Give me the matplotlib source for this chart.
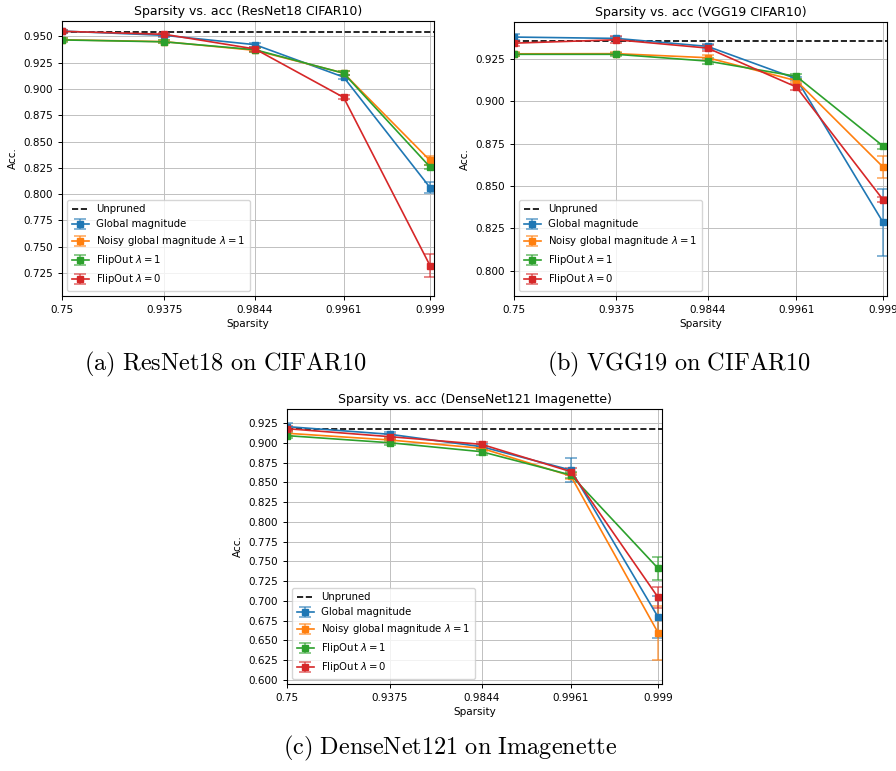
import numpy as np
import matplotlib.pyplot as plt
from matplotlib.ticker import NullLocator, NullFormatter
from matplotlib.colors import to_rgba

# sparsity levels (x axis, logit scale)
sparsity = [0.75, 0.9375, 0.984375, 0.99609375, 0.999]
sparsity_labels = ['0.75', '0.9375', '0.9844', '0.9961', '0.999']

methods = ['Global magnitude', r'Noisy global magnitude $\lambda = 1$',
           r'FlipOut $\lambda = 1$', r'FlipOut $\lambda = 0$']
colors = ['#1f77b4', '#ff7f0e', '#2ca02c', '#d62728']

# (a) ResNet18 CIFAR10
resnet_unpruned = 0.9538
resnet_mean = [
    [0.9550, 0.9510, 0.9421, 0.9113, 0.8062],
    [0.9468, 0.9450, 0.9367, 0.9151, 0.8320],
    [0.9466, 0.9448, 0.9373, 0.9150, 0.8258],
    [0.9548, 0.9520, 0.9380, 0.8920, 0.7320],
]
resnet_err = [
    [0.0015, 0.0015, 0.0020, 0.0020, 0.0050],
    [0.0015, 0.0015, 0.0020, 0.0020, 0.0040],
    [0.0015, 0.0015, 0.0020, 0.0020, 0.0020],
    [0.0015, 0.0015, 0.0020, 0.0020, 0.0110],
]

# (b) VGG19 CIFAR10
vgg_unpruned = 0.9358
vgg_mean = [
    [0.9380, 0.9372, 0.9325, 0.9134, 0.8285],
    [0.9281, 0.9282, 0.9258, 0.9122, 0.8612],
    [0.9278, 0.9278, 0.9238, 0.9148, 0.8736],
    [0.9344, 0.9364, 0.9315, 0.9085, 0.8419],
]
vgg_err = [
    [0.0020, 0.0010, 0.0015, 0.0010, 0.0200],
    [0.0010, 0.0010, 0.0015, 0.0010, 0.0067],
    [0.0010, 0.0010, 0.0020, 0.0015, 0.0015],
    [0.0015, 0.0020, 0.0020, 0.0015, 0.0015],
]

# (c) DenseNet121 Imagenette
dense_unpruned = 0.9170
dense_mean = [
    [0.9204, 0.9107, 0.8950, 0.8655, 0.6796],
    [0.9120, 0.9035, 0.8930, 0.8580, 0.6598],
    [0.9090, 0.9000, 0.8887, 0.8592, 0.7412],
    [0.9178, 0.9077, 0.8980, 0.8635, 0.7045],
]
dense_err = [
    [0.0040, 0.0030, 0.0030, 0.0150, 0.0270],
    [0.0030, 0.0030, 0.0030, 0.0040, 0.0340],
    [0.0030, 0.0030, 0.0040, 0.0040, 0.0145],
    [0.0030, 0.0030, 0.0030, 0.0040, 0.0130],
]

W, H = 896, 771
fig = plt.figure(figsize=(W / 100, H / 100), dpi=100)


def panel(rect, title, unpruned, mean, err, ylim, yticks):
    l, t, r, b = rect
    ax = fig.add_axes([l / W, 1 - b / H, (r - l) / W, (b - t) / H])
    ax.set_xscale('logit')
    ax.axhline(unpruned, color='black', ls='--', lw=1.2, label='Unpruned')
    for name, c, m, e in zip(methods, colors, mean, err):
        ax.errorbar(sparsity, m, yerr=e, color=c, ecolor=to_rgba(c, 0.7),
                    marker='s', markersize=4.8, lw=1.2, elinewidth=1.1,
                    capsize=4.5, capthick=1.1, label=name)
    ax.set_xticks(sparsity)
    ax.set_xticklabels(sparsity_labels)
    ax.xaxis.set_minor_locator(NullLocator())
    ax.xaxis.set_minor_formatter(NullFormatter())
    ax.set_xlim(0.7495, 0.99906)
    ax.set_ylim(*ylim)
    ax.set_yticks(yticks)
    ax.set_yticklabels(['%.3f' % v for v in yticks])
    ax.tick_params(labelsize=7.5, length=3, width=0.7)
    ax.grid(True, color='#c0c0c0', lw=0.7)
    ax.set_title(title, fontsize=9, pad=4)
    ax.set_xlabel('Sparsity', fontsize=7.5, labelpad=3)
    ax.set_ylabel('Acc.', fontsize=7.5)
    ax.legend(loc='lower left', fontsize=7.3, handlelength=1.7,
              handletextpad=0.7, borderpad=0.45, labelspacing=0.5)
    return ax


panel((62, 21, 434, 296), 'Sparsity vs. acc (ResNet18 CIFAR10)',
      resnet_unpruned, resnet_mean, resnet_err, (0.7032, 0.9646),
      np.arange(0.725, 0.951, 0.025))
panel((514, 22, 887, 296), 'Sparsity vs. acc (VGG19 CIFAR10)',
      vgg_unpruned, vgg_mean, vgg_err, (0.785, 0.9469),
      np.arange(0.800, 0.926, 0.025))
panel((287, 409, 662, 684), 'Sparsity vs. acc (DenseNet121 Imagenette)',
      dense_unpruned, dense_mean, dense_err, (0.5949, 0.9427),
      np.arange(0.600, 0.926, 0.025))

cap = dict(fontsize=17.5, ha='center', va='center', math_fontfamily='cm')
fig.text(225 / W, 1 - 364 / H, r'$\mathrm{(a)\ ResNet18\ on\ CIFAR10}$', **cap)
fig.text(679 / W, 1 - 364 / H, r'$\mathrm{(b)\ VGG19\ on\ CIFAR10}$', **cap)
fig.text(450 / W, 1 - 748 / H, r'$\mathrm{(c)\ DenseNet121\ on\ Imagenette}$', **cap)

fig.savefig('out.png', dpi=100)
